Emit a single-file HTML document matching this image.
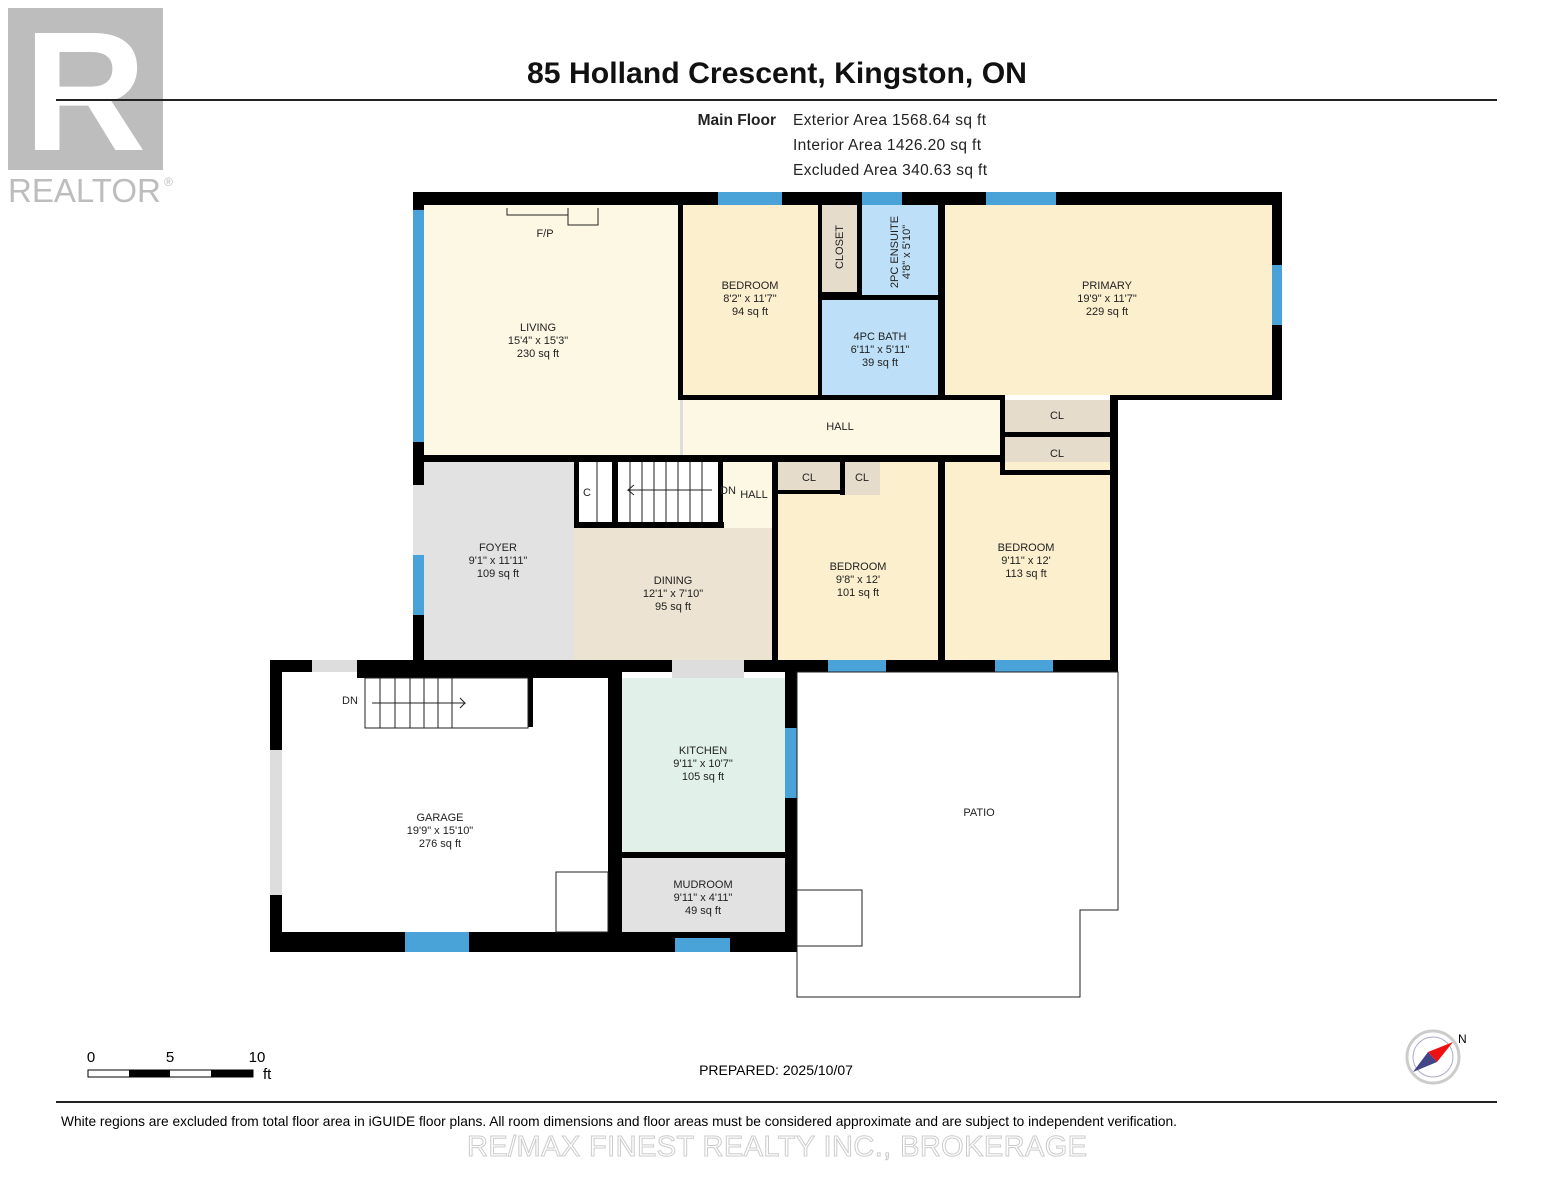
<!DOCTYPE html>
<html><head><meta charset="utf-8"><style>
body{margin:0;background:#fff;}
svg{display:block;font-family:"Liberation Sans",sans-serif;}
.t{font-size:11px;fill:#222;text-anchor:middle}
</style></head><body>
<svg width="1553" height="1200" viewBox="0 0 1553 1200">
<rect x="8" y="8" width="155" height="162" fill="#bdbdbd"/>
<text x="85" y="150" font-size="170" font-weight="bold" fill="#fff" text-anchor="middle" font-family="Liberation Sans">R</text>
<text x="8" y="202" font-size="33" fill="#bdbdbd">REALTOR</text><text x="164" y="186" font-size="12" fill="#bdbdbd">®</text>
<text x="777" y="83" font-size="30" font-weight="bold" text-anchor="middle" fill="#111" textLength="500" lengthAdjust="spacingAndGlyphs">85 Holland Crescent, Kingston, ON</text>
<rect x="56" y="99" width="1441" height="2" fill="#222"/>
<text x="776" y="125" font-size="15.5" font-weight="bold" text-anchor="end" fill="#222">Main Floor</text>
<text x="793" y="125" font-size="15.5" fill="#222" textLength="193">Exterior Area 1568.64 sq ft</text>
<text x="793" y="150" font-size="15.5" fill="#222" textLength="188">Interior Area 1426.20 sq ft</text>
<text x="793" y="175" font-size="15.5" fill="#222" textLength="194">Excluded Area 340.63 sq ft</text>

<rect x="424" y="205" width="256" height="252" fill="#fdf8e4"/>
<rect x="680" y="400" width="322" height="56" fill="#fdf8e4"/>
<rect x="682" y="205" width="136" height="190" fill="#fcefcd"/>
<rect x="822" y="205" width="35" height="87" fill="#e6dccb"/>
<rect x="862" y="205" width="76" height="93" fill="#bde0f8"/>
<rect x="822" y="298" width="116" height="97" fill="#bde0f8"/>
<rect x="945" y="205" width="327" height="190" fill="#fcefcd"/>
<rect x="1005" y="400" width="105" height="32" fill="#e6dccb"/>
<rect x="1005" y="437" width="105" height="33" fill="#e6dccb"/>
<rect x="424" y="462" width="150" height="198" fill="#e2e2e2"/>
<rect x="574" y="528" width="198" height="132" fill="#ece3d2"/>
<rect x="574" y="462" width="148" height="60" fill="#fff"/>
<rect x="722" y="462" width="50" height="66" fill="#fdf8e4"/>
<rect x="778" y="462" width="160" height="198" fill="#fcefcd"/>
<rect x="778" y="462" width="62" height="28" fill="#e6dccb"/>
<rect x="845" y="462" width="35" height="33" fill="#e6dccb"/>
<rect x="945" y="462" width="165" height="198" fill="#fcefcd"/>
<rect x="622" y="678" width="163" height="174" fill="#e1f1ea"/>
<rect x="622" y="858" width="163" height="80" fill="#e2e2e2"/>

<g fill="#000">
<rect x="413" y="192" width="869" height="13"/>
<rect x="413" y="192" width="11" height="478"/>
<rect x="1272" y="192" width="10" height="208"/>
<rect x="1110" y="395" width="172" height="5"/>
<rect x="1110" y="395" width="8" height="275"/>
<rect x="678" y="205" width="5" height="195"/>
<rect x="818" y="205" width="4" height="195"/>
<rect x="857" y="205" width="5" height="93"/>
<rect x="938" y="205" width="7" height="195"/>
<rect x="818" y="292" width="44" height="6"/>
<rect x="822" y="295" width="116" height="5"/>
<rect x="683" y="395" width="322" height="5"/>
<rect x="1000" y="395" width="5" height="80"/>
<rect x="1005" y="432" width="105" height="5"/>
<rect x="1005" y="470" width="105" height="5"/>
<rect x="413" y="455" width="360" height="7"/>
<rect x="772" y="455" width="233" height="7"/>
<rect x="772" y="462" width="6" height="205"/>
<rect x="938" y="462" width="7" height="205"/>
<rect x="574" y="462" width="5" height="65"/>
<rect x="574" y="522" width="150" height="6"/>
<rect x="612" y="462" width="6" height="60"/>
<rect x="718" y="462" width="5" height="65"/>
<rect x="840" y="462" width="5" height="33"/>
<rect x="778" y="490" width="62" height="4"/>
<rect x="270" y="660" width="848" height="12"/>
<rect x="357" y="672" width="251" height="6"/>
<rect x="270" y="660" width="12" height="292"/>
<rect x="270" y="932" width="527" height="20"/>
<rect x="608" y="672" width="14" height="266"/>
<rect x="785" y="672" width="12" height="273"/>
<rect x="622" y="852" width="163" height="6"/>
<rect x="528" y="672" width="5" height="55"/>
</g>
<g fill="#4aa3d8">
<rect x="413" y="210" width="11" height="232"/>
<rect x="413" y="555" width="11" height="60"/>
<rect x="718" y="192" width="64" height="13"/>
<rect x="862" y="192" width="40" height="13"/>
<rect x="986" y="192" width="70" height="13"/>
<rect x="1272" y="265" width="10" height="60"/>
<rect x="828" y="660" width="58" height="12"/>
<rect x="995" y="660" width="58" height="12"/>
<rect x="785" y="728" width="12" height="70"/>
<rect x="405" y="932" width="64" height="20"/>
<rect x="675" y="938" width="55" height="14"/>
</g>
<g fill="#ddd">
<rect x="672" y="660" width="72" height="18"/>
<rect x="270" y="750" width="12" height="145"/>
<rect x="680" y="400" width="3" height="55"/>
<rect x="312" y="660" width="45" height="12"/>
</g>
<rect x="413" y="485" width="11" height="70" fill="#e2e2e2"/>
<g stroke="#222" stroke-width="1" fill="none">
<path d="M630 462V522M642 462V522M654 462V522M666 462V522M678 462V522M690 462V522M702 462V522M597 462V522"/>
<path d="M712 490H628l6-5M628 490l6 5"/>
<rect x="365" y="678" width="163" height="50" fill="#fff"/>
<path d="M380 678V728M395 678V728M410 678V728M424 678V728M438 678V728M452 678V728"/>
<path d="M372 703H465l-5-5M465 703l-5 5"/>
<polygon points="797,672 1118,672 1118,910 1080,910 1080,997 797,997"/>
<rect x="556" y="872" width="52" height="60"/>
<rect x="797" y="890" width="65" height="56"/>
<path d="M507 208V215H568V212M568 208V225H598V208"/>
</g>
<g class="t">
<text x="545" y="237">F/P</text>
<text x="538" y="331">LIVING</text><text x="538" y="344">15'4" x 15'3"</text><text x="538" y="357">230 sq ft</text>
<text x="750" y="289">BEDROOM</text><text x="750" y="302">8'2" x 11'7"</text><text x="750" y="315">94 sq ft</text>
<text x="880" y="340">4PC BATH</text><text x="880" y="353">6'11" x 5'11"</text><text x="880" y="366">39 sq ft</text>
<text x="1107" y="289">PRIMARY</text><text x="1107" y="302">19'9" x 11'7"</text><text x="1107" y="315">229 sq ft</text>
<text x="840" y="430">HALL</text>
<text x="1057" y="419">CL</text><text x="1057" y="457">CL</text>
<text x="498" y="551">FOYER</text><text x="498" y="564">9'1" x 11'11"</text><text x="498" y="577">109 sq ft</text>
<text x="673" y="584">DINING</text><text x="673" y="597">12'1" x 7'10"</text><text x="673" y="610">95 sq ft</text>
<text x="587" y="496">C</text><text x="728" y="494">DN</text><text x="754" y="498">HALL</text>
<text x="809" y="481">CL</text><text x="862" y="481">CL</text>
<text x="858" y="570">BEDROOM</text><text x="858" y="583">9'8" x 12'</text><text x="858" y="596">101 sq ft</text>
<text x="1026" y="551">BEDROOM</text><text x="1026" y="564">9'11" x 12'</text><text x="1026" y="577">113 sq ft</text>
<text x="350" y="704">DN</text>
<text x="703" y="754">KITCHEN</text><text x="703" y="767">9'11" x 10'7"</text><text x="703" y="780">105 sq ft</text>
<text x="440" y="821">GARAGE</text><text x="440" y="834">19'9" x 15'10"</text><text x="440" y="847">276 sq ft</text>
<text x="703" y="888">MUDROOM</text><text x="703" y="901">9'11" x 4'11"</text><text x="703" y="914">49 sq ft</text>
<text x="979" y="816">PATIO</text>
<text transform="translate(843 247) rotate(-90)">CLOSET</text>
<text transform="translate(898 252) rotate(-90)">2PC ENSUITE</text>
<text transform="translate(910 252) rotate(-90)">4'8" x 5'10"</text>
</g>
<text x="91" y="1062" font-size="15" text-anchor="middle">0</text>
<text x="170" y="1062" font-size="15" text-anchor="middle">5</text>
<text x="257" y="1062" font-size="15" text-anchor="middle">10</text>
<text x="263" y="1079" font-size="15">ft</text>
<rect x="88" y="1070" width="165" height="7" fill="#fff" stroke="#000"/>
<rect x="129" y="1070" width="41" height="7" fill="#000"/><rect x="211" y="1070" width="42" height="7" fill="#000"/>
<text x="776" y="1075" font-size="14" text-anchor="middle">PREPARED: 2025/10/07</text>
<circle cx="1433" cy="1057" r="26" fill="#fff" stroke="#ccc" stroke-width="3"/>
<circle cx="1433" cy="1057" r="20" fill="#fff" stroke="#aac" stroke-width="1"/>
<polygon points="1453,1042 1437,1062 1428,1052" fill="#e11"/>
<polygon points="1413,1072 1428,1052 1437,1062" fill="#448"/>
<text x="1458" y="1043" font-size="12">N</text>
<rect x="56" y="1101" width="1441" height="2" fill="#222"/>
<text x="61" y="1126" font-size="14" textLength="1116" lengthAdjust="spacingAndGlyphs">White regions are excluded from total floor area in iGUIDE floor plans. All room dimensions and floor areas must be considered approximate and are subject to independent verification.</text>
<text x="777" y="1156" font-size="29" text-anchor="middle" fill="#fff" stroke="#ccc" stroke-width="1" textLength="620">RE/MAX FINEST REALTY INC., BROKERAGE</text>
</svg>
</body></html>
